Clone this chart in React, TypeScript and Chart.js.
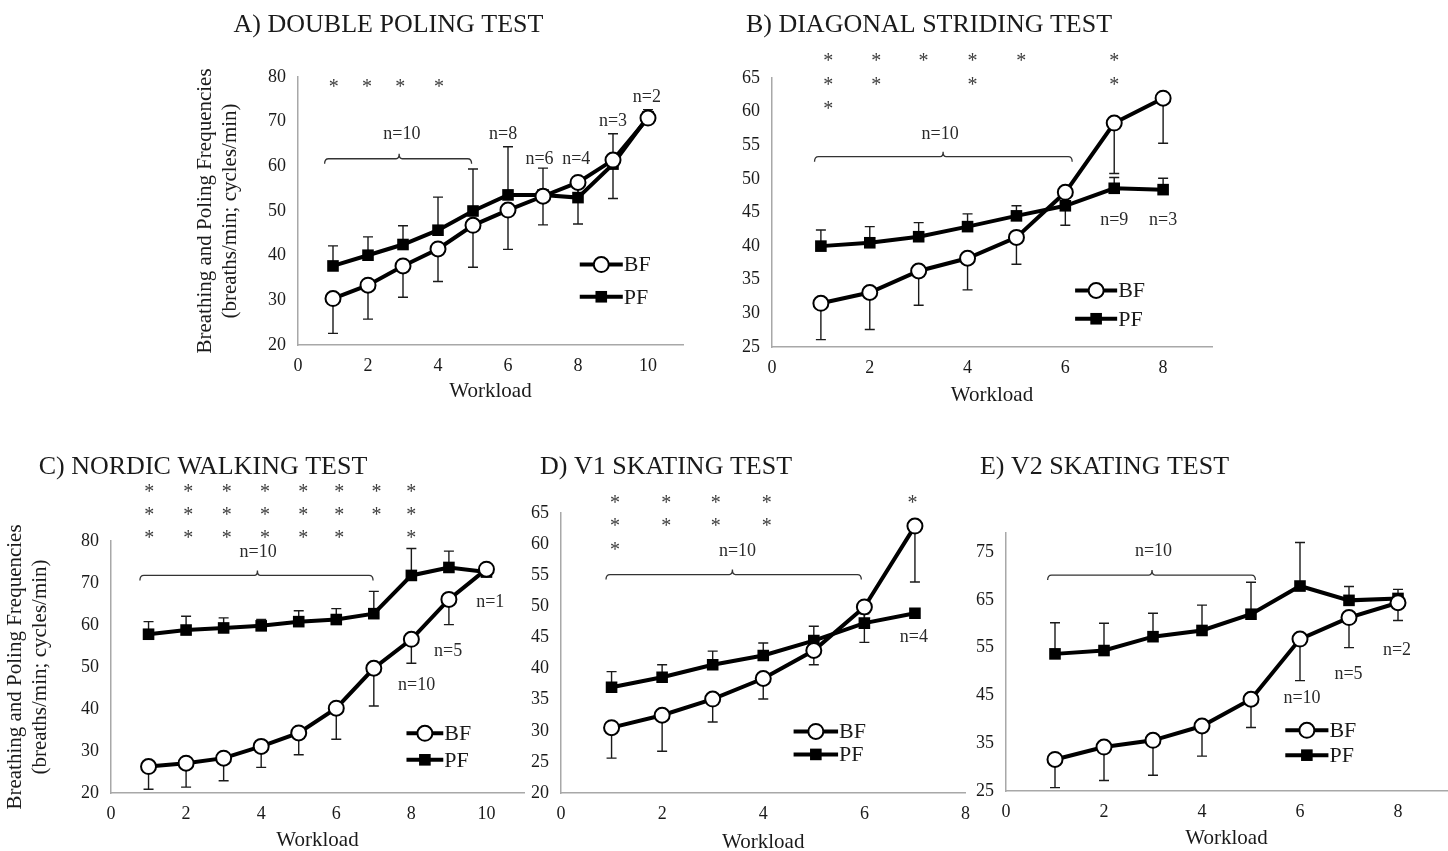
import React, { useEffect, useRef } from 'react';
import { Chart, registerables } from 'chart.js';
Chart.register(...registerables);

// ---------------- DATA ----------------
// A) Double poling
const workloadA = [1, 2, 3, 4, 5, 6, 7, 8, 9, 10];
const bfA = [30.4, 33.4, 37.7, 41.5, 46.8, 50.2, 53.3, 56.4, 61.4, 70.8];
const bfSdA = [7.8, 7.6, 7.0, 7.3, 9.4, 8.8, 6.4, 9.3, 8.6, 0.5];
const pfA = [37.7, 40.1, 42.5, 45.7, 50.0, 53.6, 53.6, 53.0, 60.5, 71.1];
const pfSdA = [4.5, 4.1, 4.2, 7.4, 9.4, 10.8, 6.0, 2.5, 6.8, 1.6];
const xTicksA = [0, 2, 4, 6, 8, 10];
const yTicksA = [20, 30, 40, 50, 60, 70, 80];
const starXA = [1.02, 1.97, 2.92, 4.03];
const starCountA = [1, 1, 1, 1];
const starRowsA = [78.5];
const nTextA = ['n=10', 'n=8', 'n=6', 'n=4', 'n=3', 'n=2'];
const nXA = [2.97, 5.86, 6.9, 7.95, 9.0, 9.97];
const nYA = [67.2, 67.2, 61.5, 61.5, 70.0, 75.4];

// B) Diagonal striding
const workloadB = [1, 2, 3, 4, 5, 6, 7, 8];
const bfB = [31.5, 33.1, 36.3, 38.2, 41.3, 48.0, 58.3, 62.0];
const bfSdB = [5.4, 5.5, 5.1, 4.7, 4.0, 4.9, 7.5, 6.7];
const pfB = [40.0, 40.5, 41.4, 42.9, 44.5, 46.0, 48.6, 48.4];
const pfSdB = [2.4, 2.4, 2.1, 1.9, 1.5, 1.5, 1.6, 1.7];
const xTicksB = [0, 2, 4, 6, 8];
const yTicksB = [25, 30, 35, 40, 45, 50, 55, 60, 65];
const starXB = [1.15, 2.13, 3.1, 4.1, 5.1, 7.0];
const starCountB = [3, 2, 1, 2, 1, 2];
const starRowsB = [68.0, 64.5, 60.9];
const nTextB = ['n=10', 'n=9', 'n=3'];
const nXB = [3.44, 7.0, 8.0];
const nYB = [56.6, 43.9, 43.9];

// C) Nordic walking
const workloadC = [1, 2, 3, 4, 5, 6, 7, 8, 9, 10];
const bfC = [26.3, 27.1, 28.3, 31.1, 34.3, 40.2, 49.7, 56.6, 66.1, 73.3];
const bfSdC = [5.4, 5.7, 5.4, 5.0, 5.2, 7.4, 9.0, 5.7, 6.0, 0];
const pfC = [57.8, 58.8, 59.3, 59.8, 60.8, 61.3, 62.7, 71.8, 73.7, 72.6];
const pfSdC = [3.0, 3.3, 2.4, 1.5, 2.6, 2.6, 5.3, 6.4, 3.9, 0];
const xTicksC = [0, 2, 4, 6, 8, 10];
const yTicksC = [20, 30, 40, 50, 60, 70, 80];
const starXC = [1.02, 2.06, 3.08, 4.1, 5.12, 6.08, 7.07, 8.0];
const starCountC = [3, 3, 3, 3, 3, 3, 2, 3];
const starRowsC = [92.4, 87.0, 81.6];
const nTextC = ['n=10', 'n=10', 'n=5', 'n=1'];
const nXC = [3.92, 8.14, 8.98, 10.1];
const nYC = [77.4, 45.7, 53.8, 65.5];

// D) V1 skating
const workloadD = [1, 2, 3, 4, 5, 6, 7];
const bfD = [30.5, 32.5, 35.1, 38.4, 42.9, 49.9, 62.9];
const bfSdD = [4.9, 5.8, 3.7, 3.3, 2.3, 5.7, 9.0];
const pfD = [37.0, 38.6, 40.6, 42.1, 44.5, 47.3, 48.9];
const pfSdD = [2.5, 2.0, 2.2, 2.0, 2.3, 1.5, 0.5];
const xTicksD = [0, 2, 4, 6, 8];
const yTicksD = [20, 25, 30, 35, 40, 45, 50, 55, 60, 65];
const starXD = [1.07, 2.08, 3.06, 4.07, 6.95];
const starCountD = [3, 2, 2, 2, 1];
const starRowsD = [67.1, 63.4, 59.6];
const nTextD = ['n=10', 'n=4'];
const nXD = [3.49, 6.98];
const nYD = [58.9, 45.1];

// E) V2 skating
const workloadE = [1, 2, 3, 4, 5, 6, 7, 8];
const bfE = [31.6, 34.2, 35.6, 38.6, 44.2, 56.8, 61.3, 64.4];
const bfSdE = [5.9, 7.0, 7.3, 6.3, 5.9, 8.7, 6.3, 3.7];
const pfE = [53.7, 54.4, 57.3, 58.6, 62.0, 67.9, 64.9, 65.3];
const pfSdE = [6.5, 5.7, 4.9, 5.3, 6.7, 9.1, 2.9, 1.9];
const xTicksE = [0, 2, 4, 6, 8];
const yTicksE = [25, 35, 45, 55, 65, 75];
const starXE: number[] = [];
const starCountE: number[] = [];
const starRowsE: number[] = [];
const nTextE = ['n=10', 'n=10', 'n=5', 'n=2'];
const nXE = [3.01, 6.04, 6.99, 7.98];
const nYE = [75.1, 44.4, 49.5, 54.5];

const titles = ['A) DOUBLE POLING TEST', 'B) DIAGONAL STRIDING TEST', 'C) NORDIC WALKING TEST', 'D) V1 SKATING TEST', 'E) V2 SKATING TEST'];
const yTitleLines = ['Breathing and Poling Frequencies', '(breaths/min; cycles/min)'];
const xTitle = 'Workload';
const seriesNames = ['BF', 'PF'];

// ---------------- LAYOUT / STYLE ----------------
const FONT = "'Liberation Serif', 'Times New Roman', serif";
const TEXT = '#1a1a1a';

type Layout = {
  left: number; top: number; w: number; h: number;
  yW: number; pr: number; pt: number; xH: number; xTitlePad: number;
  yTitle: boolean; tx: number; ty: number;
  xMax: number; yMin: number; yMax: number;
  bracket: [number, number, number, number]; // x0, x1, xc, y (data units)
  legend: [number, number, number, number]; // x0, x1, yBF, yPF (data units)
};

const layouts: Layout[] = [
  { left: 190, top: 0, w: 510, h: 420, yW: 108, pr: 17, pt: 77, xH: 75, xTitlePad: 16, yTitle: true, tx: 388.5, ty: 25, xMax: 11, yMin: 20, yMax: 80, bracket: [0.76, 4.96, 2.89, 61.7], legend: [8.05, 9.28, 38.0, 30.8] },
  { left: 730, top: 0, w: 500, h: 420, yW: 42, pr: 18, pt: 78, xH: 73, xTitlePad: 12, yTitle: false, tx: 929, ty: 25, xMax: 9, yMin: 25, yMax: 65, bracket: [0.87, 6.14, 3.5, 53.3], legend: [6.2, 7.06, 33.4, 29.2] },
  { left: 0, top: 440, w: 540, h: 420, yW: 111, pr: 16, pt: 101, xH: 67, xTitlePad: 7, yTitle: true, tx: 203, ty: 467, xMax: 11, yMin: 20, yMax: 80, bracket: [0.77, 6.98, 3.9, 71.8], legend: [7.87, 8.85, 34.2, 27.9] },
  { left: 525, top: 440, w: 455, h: 420, yW: 36, pr: 12, pt: 73, xH: 67, xTitlePad: 5, yTitle: false, tx: 666, ty: 467, xMax: 8, yMin: 20, yMax: 65, bracket: [0.89, 5.94, 3.39, 55.1], legend: [4.6, 5.48, 29.9, 26.2] },
  { left: 960, top: 440, w: 508, h: 420, yW: 46, pr: 21, pt: 93, xH: 69, xTitlePad: 9, yTitle: false, tx: 1104.5, ty: 467, xMax: 9, yMin: 25, yMax: 79, bracket: [0.85, 5.09, 2.98, 70.2], legend: [5.7, 6.58, 37.7, 32.5] },
];

type PanelData = {
  x: number[]; bf: number[]; bfSd: number[]; pf: number[]; pfSd: number[];
  xTicks: number[]; yTicks: number[];
  starX: number[]; starCount: number[]; starRows: number[];
  nText: string[]; nX: number[]; nY: number[];
};

const panels: PanelData[] = [
  { x: workloadA, bf: bfA, bfSd: bfSdA, pf: pfA, pfSd: pfSdA, xTicks: xTicksA, yTicks: yTicksA, starX: starXA, starCount: starCountA, starRows: starRowsA, nText: nTextA, nX: nXA, nY: nYA },
  { x: workloadB, bf: bfB, bfSd: bfSdB, pf: pfB, pfSd: pfSdB, xTicks: xTicksB, yTicks: yTicksB, starX: starXB, starCount: starCountB, starRows: starRowsB, nText: nTextB, nX: nXB, nY: nYB },
  { x: workloadC, bf: bfC, bfSd: bfSdC, pf: pfC, pfSd: pfSdC, xTicks: xTicksC, yTicks: yTicksC, starX: starXC, starCount: starCountC, starRows: starRowsC, nText: nTextC, nX: nXC, nY: nYC },
  { x: workloadD, bf: bfD, bfSd: bfSdD, pf: pfD, pfSd: pfSdD, xTicks: xTicksD, yTicks: yTicksD, starX: starXD, starCount: starCountD, starRows: starRowsD, nText: nTextD, nX: nXD, nY: nYD },
  { x: workloadE, bf: bfE, bfSd: bfSdE, pf: pfE, pfSd: pfSdE, xTicks: xTicksE, yTicks: yTicksE, starX: starXE, starCount: starCountE, starRows: starRowsE, nText: nTextE, nX: nXE, nY: nYE },
];

function drawMarker(ctx: CanvasRenderingContext2D, kind: number, x: number, y: number) {
  ctx.save();
  if (kind === 0) {
    ctx.beginPath();
    ctx.arc(x, y, 7.5, 0, Math.PI * 2);
    ctx.fillStyle = '#fff';
    ctx.fill();
    ctx.lineWidth = 2;
    ctx.strokeStyle = '#000';
    ctx.stroke();
  } else {
    ctx.fillStyle = '#000';
    ctx.fillRect(x - 5.8, y - 5.8, 11.6, 11.6);
  }
  ctx.restore();
}

function makeDecor(idx: number) {
  const L = layouts[idx];
  const P = panels[idx];
  return {
    id: 'decor' + idx,
    beforeDatasetsDraw(chart: any) {
      const ctx: CanvasRenderingContext2D = chart.ctx;
      const ys = chart.scales.y;
      ctx.save();
      ctx.strokeStyle = '#1a1a1a';
      ctx.lineWidth = 1.4;
      chart.data.datasets.forEach((ds: any, di: number) => {
        const meta = chart.getDatasetMeta(di);
        const sd: number[] = ds.errSd;
        const dir: number = ds.errDir;
        meta.data.forEach((pt: any, j: number) => {
          if (!sd[j]) return;
          const v = ds.data[j].y + dir * sd[j];
          const ey = ys.getPixelForValue(v);
          ctx.beginPath();
          ctx.moveTo(pt.x, pt.y);
          ctx.lineTo(pt.x, ey);
          ctx.moveTo(pt.x - 5, ey);
          ctx.lineTo(pt.x + 5, ey);
          ctx.stroke();
        });
      });
      ctx.restore();
    },
    afterDraw(chart: any) {
      const ctx: CanvasRenderingContext2D = chart.ctx;
      const xs = chart.scales.x;
      const ys = chart.scales.y;
      ctx.save();
      // panel title
      ctx.fillStyle = TEXT;
      ctx.font = `26px ${FONT}`;
      ctx.textAlign = 'center';
      ctx.textBaseline = 'middle';
      ctx.fillText(titles[idx], L.tx - L.left, L.ty - L.top);

      // asterisks
      ctx.fillStyle = '#3c3c3c';
      ctx.font = `20px ${FONT}`;
      ctx.textBaseline = 'alphabetic';
      P.starX.forEach((sx, i) => {
        for (let r = 0; r < P.starCount[i]; r++) {
          const px = xs.getPixelForValue(sx);
          const py = ys.getPixelForValue(P.starRows[r]);
          ctx.fillText('*', px, py + 20 * 0.47);
        }
      });

      // n labels
      ctx.fillStyle = '#2a2a2a';
      ctx.font = `18px ${FONT}`;
      ctx.textBaseline = 'middle';
      P.nText.forEach((t, i) => {
        ctx.fillText(t, xs.getPixelForValue(P.nX[i]), ys.getPixelForValue(P.nY[i]));
      });

      // bracket
      const [b0, b1, bc, by] = L.bracket;
      const bx0 = xs.getPixelForValue(b0);
      const bx1 = xs.getPixelForValue(b1);
      const bxc = xs.getPixelForValue(bc);
      const byp = ys.getPixelForValue(by);
      ctx.strokeStyle = '#333';
      ctx.lineWidth = 1.3;
      ctx.beginPath();
      ctx.moveTo(bx0, byp + 5);
      ctx.quadraticCurveTo(bx0, byp, bx0 + 4, byp);
      ctx.lineTo(bxc - 3, byp);
      ctx.quadraticCurveTo(bxc, byp, bxc, byp - 5);
      ctx.quadraticCurveTo(bxc, byp, bxc + 3, byp);
      ctx.lineTo(bx1 - 4, byp);
      ctx.quadraticCurveTo(bx1, byp, bx1, byp + 5);
      ctx.stroke();

      // legend
      const [l0, l1, lyBF, lyPF] = L.legend;
      const lx0 = xs.getPixelForValue(l0);
      const lx1 = xs.getPixelForValue(l1);
      [lyBF, lyPF].forEach((lv, k) => {
        const py = ys.getPixelForValue(lv);
        ctx.strokeStyle = '#000';
        ctx.lineWidth = 4;
        ctx.beginPath();
        ctx.moveTo(lx0, py);
        ctx.lineTo(lx1, py);
        ctx.stroke();
        drawMarker(ctx, k, (lx0 + lx1) / 2, py);
        ctx.fillStyle = TEXT;
        ctx.font = `22px ${FONT}`;
        ctx.textAlign = 'left';
        ctx.textBaseline = 'middle';
        ctx.fillText(seriesNames[k], lx1 + 1, py + 1);
      });
      ctx.restore();
    },
  };
}

function Panel({ idx }: { idx: number }) {
  const ref = useRef<HTMLCanvasElement | null>(null);
  const L = layouts[idx];
  const P = panels[idx];
  useEffect(() => {
    if (!ref.current) return;
    const tickFont = { family: FONT, size: 18 };
    const chart = new Chart(ref.current, {
      type: 'line',
      data: {
        datasets: [
          {
            label: seriesNames[0],
            data: P.x.map((x, i) => ({ x, y: P.bf[i] })),
            borderColor: '#000',
            borderWidth: 4,
            pointStyle: 'circle',
            pointRadius: 7.5,
            pointBorderWidth: 2,
            pointBackgroundColor: '#fff',
            pointBorderColor: '#000',
            tension: 0,
            errSd: P.bfSd,
            errDir: -1,
          } as any,
          {
            label: seriesNames[1],
            data: P.x.map((x, i) => ({ x, y: P.pf[i] })),
            borderColor: '#000',
            borderWidth: 4,
            pointStyle: 'rect',
            pointRadius: 8.2,
            pointBorderWidth: 0,
            pointBackgroundColor: '#000',
            pointBorderColor: '#000',
            tension: 0,
            errSd: P.pfSd,
            errDir: 1,
          } as any,
        ],
      },
      options: {
        animation: false,
        responsive: false,
        maintainAspectRatio: false,
        layout: { padding: { left: 0, right: L.pr, top: L.pt, bottom: 0 } },
        plugins: { legend: { display: false }, tooltip: { enabled: false }, title: { display: false } },
        scales: {
          x: {
            type: 'linear',
            min: 0,
            max: L.xMax,
            afterBuildTicks: (s: any) => { s.ticks = P.xTicks.map((v) => ({ value: v })); },
            afterFit: (s: any) => { s.height = L.xH; },
            grid: { display: false, drawTicks: false },
            border: { display: true, color: '#a8a8a8', width: 1.5 },
            ticks: { font: tickFont, color: TEXT, padding: 10, autoSkip: false, maxRotation: 0 },
            title: { display: true, text: xTitle, color: TEXT, font: { family: FONT, size: 21 }, padding: { top: 0, bottom: L.xTitlePad } },
          },
          y: {
            type: 'linear',
            min: L.yMin,
            max: L.yMax,
            afterBuildTicks: (s: any) => { s.ticks = P.yTicks.map((v) => ({ value: v })); },
            afterFit: (s: any) => { s.width = L.yW; },
            grid: { display: false, drawTicks: false },
            border: { display: true, color: '#a8a8a8', width: 1.5 },
            ticks: { font: tickFont, color: TEXT, padding: 12, autoSkip: false },
            title: { display: L.yTitle, text: yTitleLines, color: TEXT, font: { family: FONT, size: 21, lineHeight: 1.2 }, padding: { top: 2.5, bottom: 0 } },
          },
        },
      } as any,
      plugins: [makeDecor(idx)],
    });
    return () => chart.destroy();
  }, []);
  return (
    <canvas
      ref={ref}
      width={L.w}
      height={L.h}
      style={{ position: 'absolute', left: L.left, top: L.top, width: L.w, height: L.h }}
    />
  );
}

export default function App() {
  return (
    <div style={{ position: 'fixed', left: 0, top: 0, width: 1448, height: 851, background: '#fff', overflow: 'hidden' }}>
      {layouts.map((_, i) => (
        <Panel key={i} idx={i} />
      ))}
    </div>
  );
}
